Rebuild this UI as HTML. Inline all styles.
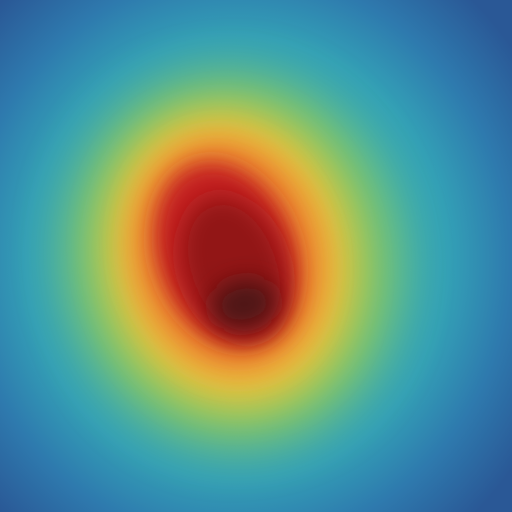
<!DOCTYPE html>
<html><head><meta charset="utf-8">
<style>html,body{margin:0;padding:0;background:#2c5c9a;width:512px;height:512px;overflow:hidden;}svg{display:block;overflow:hidden}</style>
</head><body>
<svg id="chart" width="512" height="512" viewBox="0 0 512 512" overflow="hidden" xmlns="http://www.w3.org/2000/svg">
<defs id="defs">
<radialGradient id="bgGrad" gradientUnits="userSpaceOnUse" cx="238" cy="258" r="340" gradientTransform="translate(238 258) scale(1 1.05) translate(-238 -258)"></radialGradient>
</defs>
<rect x="0" y="0" width="512" height="512" fill="url(#bgGrad)"/>
<g id="layers"></g>
</svg>
<script>
// outer field falloff (gradient stops)
const bgStops = [0, 0.45, 0.62, 0.8, 1];
const bgColors = ["#3db4ac","#3bb0ae","#33a0b6","#2e7aae","#2a5896"];
// inner contour levels of the intensity field (outer -> inner)
const levelNames = ["green","yellow","orange","red","darkred","core"];
const levelColors = ["#92c85a","#edc23c","#e9802e","#c52222","#921818","#4e1818"];
const centerX = [232,230,228,226,234,244];
const centerY = [260,258,256,254,268,304];
const radiusX = [160,120,94,68,50,32];
const radiusY = [182,146,118,94,74,24];
const tiltDeg = [-10,-12,-15,-20,-20,-10];
const blurAmt = [26,18,14,10,12,12];

const ns="http://www.w3.org/2000/svg";
const defs=document.getElementById('defs');
const grad=document.getElementById('bgGrad');
for(let i=0;i<bgStops.length;i++){
  const s=document.createElementNS(ns,'stop');
  s.setAttribute('offset',bgStops[i]);
  s.setAttribute('stop-color',bgColors[i]);
  grad.appendChild(s);
}
const g=document.getElementById('layers');
for(let i=0;i<levelNames.length;i++){
  const f=document.createElementNS(ns,'filter');
  f.setAttribute('id','b'+i);
  f.setAttribute('x','-50%');f.setAttribute('y','-50%');f.setAttribute('width','200%');f.setAttribute('height','200%');
  const gb=document.createElementNS(ns,'feGaussianBlur');
  gb.setAttribute('stdDeviation',blurAmt[i]);
  f.appendChild(gb);defs.appendChild(f);
  const e=document.createElementNS(ns,'ellipse');
  
  
  e.setAttribute('cx',centerX[i]);e.setAttribute('cy',centerY[i]);
  e.setAttribute('rx',radiusX[i]);e.setAttribute('ry',radiusY[i]);
  e.setAttribute('fill',levelColors[i]);
  e.setAttribute('filter','url(#b'+i+')');
  e.setAttribute('transform','rotate('+tiltDeg[i]+' '+centerX[i]+' '+centerY[i]+')');
  g.appendChild(e);
}
</script>
</body></html>
